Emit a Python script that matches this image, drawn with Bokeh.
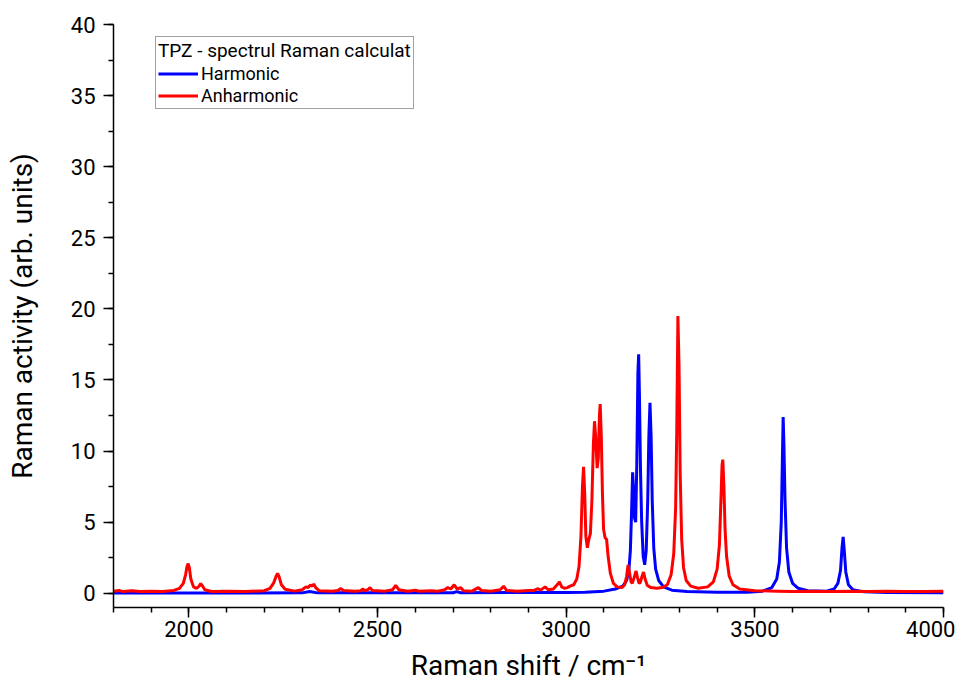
from bokeh.plotting import figure
from bokeh.models import Range1d, Legend, LegendItem, SingleIntervalTicker
from bokeh.embed import file_html
from bokeh.resources import INLINE

# ---- data ----
harm_x = [1800, 2000, 2300, 2320, 2340, 2700, 2710, 2720, 3000, 3050, 3100, 3130, 3150,
          3160, 3166, 3170, 3173, 3176, 3178, 3181, 3184, 3187, 3190, 3192, 3194, 3197,
          3200, 3204, 3208, 3212, 3216, 3219, 3222, 3225, 3228, 3232, 3237, 3245, 3258,
          3280, 3320, 3400, 3480, 3520, 3545, 3558, 3565, 3570, 3573, 3575, 3577, 3580,
          3584, 3590, 3600, 3615, 3640, 3690, 3710, 3720, 3727, 3731, 3734, 3737, 3741,
          3748, 3760, 3790, 3850, 4000]
harm_y = [0.02, 0.02, 0.03, 0.12, 0.03, 0.04, 0.12, 0.04, 0.06, 0.08, 0.15, 0.3, 0.5,
          0.9, 1.6, 3.0, 5.5, 8.5, 7.5, 5.3, 5.0, 9.0, 15.5, 16.8, 14.0, 8.5,
          5.0, 2.6, 2.0, 3.0, 6.5, 11.0, 13.4, 11.0, 6.5, 3.2, 1.7, 0.9, 0.45,
          0.22, 0.12, 0.07, 0.08, 0.15, 0.4, 1.0, 2.2, 5.0, 9.5, 12.4, 10.5, 6.5,
          3.2, 1.5, 0.7, 0.35, 0.18, 0.15, 0.3, 0.7, 1.6, 3.2, 3.96, 3.0, 1.5,
          0.6, 0.25, 0.1, 0.05, 0.03]

anh_x = [1800, 1815, 1825, 1850, 1870, 1900, 1930, 1960, 1975, 1985, 1991, 1995, 1998,
         2001, 2005, 2012, 2020, 2027, 2031, 2035, 2042, 2060, 2100, 2150, 2200, 2215,
         2225, 2231, 2235, 2239, 2245, 2255, 2280, 2300, 2310, 2316, 2322, 2327, 2331,
         2336, 2345, 2380, 2395, 2402, 2410, 2440, 2455, 2461, 2466, 2474, 2480, 2486,
         2520, 2540, 2548, 2556, 2580, 2600, 2610, 2640, 2660, 2678, 2686, 2694, 2703,
         2711, 2720, 2728, 2750, 2767, 2775, 2800, 2825, 2834, 2842, 2870, 2900, 2915,
         2924, 2932, 2944, 2952, 2966, 2976, 2982, 2988, 2995, 3003, 3010, 3020, 3028,
         3034, 3039, 3043, 3046, 3049, 3052, 3056, 3060, 3064, 3068, 3072, 3075, 3078,
         3082, 3085, 3088, 3090, 3093, 3096, 3099, 3103, 3107, 3111, 3117, 3125, 3135,
         3148, 3155, 3160, 3164, 3168, 3172, 3175, 3180, 3185, 3189, 3193, 3196, 3201,
         3205, 3209, 3215, 3225, 3240, 3255, 3268, 3278, 3285, 3290, 3293, 3296, 3299,
         3302, 3306, 3311, 3318, 3330, 3350, 3375, 3390, 3400, 3406, 3410, 3413, 3415,
         3418, 3421, 3425, 3432, 3442, 3460, 3500, 3560, 3600, 3650, 3700, 3760, 3800,
         3850, 3900, 3950, 4000]
anh_y = [0.15, 0.2, 0.12, 0.18, 0.12, 0.15, 0.12, 0.2, 0.35, 0.7, 1.3, 1.9, 2.08,
         1.8, 1.0, 0.45, 0.35, 0.5, 0.68, 0.55, 0.25, 0.13, 0.15, 0.12, 0.18, 0.35,
         0.75, 1.2, 1.4, 1.15, 0.6, 0.28, 0.15, 0.25, 0.45, 0.4, 0.58, 0.5, 0.65,
         0.4, 0.18, 0.15, 0.2, 0.33, 0.2, 0.15, 0.18, 0.3, 0.18, 0.25, 0.4, 0.2,
         0.15, 0.25, 0.55, 0.25, 0.15, 0.22, 0.14, 0.18, 0.14, 0.25, 0.4, 0.3, 0.6,
         0.3, 0.4, 0.18, 0.15, 0.4, 0.2, 0.15, 0.25, 0.5, 0.2, 0.15, 0.2, 0.2,
         0.32, 0.22, 0.45, 0.25, 0.3, 0.6, 0.8, 0.45, 0.35, 0.4, 0.5, 0.6, 1.0,
         1.9, 4.0, 7.5, 8.9, 7.0, 4.0, 3.2, 3.8, 4.2, 6.5, 10.5, 12.1, 11.0,
         8.8, 9.5, 12.5, 13.3, 11.0, 7.0, 4.5, 3.9, 3.8, 2.6, 1.4, 0.7, 0.45,
         0.4, 0.6, 1.2, 2.0, 1.4, 0.8, 0.7, 1.1, 1.57, 1.1, 0.7, 0.75, 1.2,
         1.5, 1.0, 0.55, 0.4, 0.35, 0.4, 0.6, 1.3, 2.8, 6.0, 11.5, 19.5, 16.0,
         8.5, 3.8, 1.8, 0.9, 0.5, 0.35, 0.45, 0.8, 1.7, 3.4, 6.5, 9.0, 9.4,
         7.5, 4.5, 2.6, 1.2, 0.6, 0.3, 0.18, 0.15, 0.12, 0.15, 0.12, 0.15, 0.12,
         0.15, 0.12, 0.13, 0.14]

legend_title = "TPZ - spectrul Raman calculat"
series_names = ["Harmonic", "Anharmonic"]
series_colors = ["#0000ff", "#ff0000"]
x_label = "Raman shift / cm\u207b\u00b9"
y_label = "Raman activity (arb. units)"

FONT = "Roboto"
X_MIN, X_MAX = 1800, 4000

p = figure(width=955, height=684, output_backend="svg", toolbar_location=None,
           x_range=Range1d(X_MIN, X_MAX), y_range=Range1d(-1.0, 40),
           min_border_left=113, min_border_right=12, min_border_top=24,
           min_border_bottom=77)
p.outline_line_color = None
p.xgrid.grid_line_color = None
p.ygrid.grid_line_color = None
p.background_fill_color = "white"
p.border_fill_color = "white"

r1 = p.line(harm_x, harm_y, line_color=series_colors[0], line_width=3)
r2 = p.line(anh_x, anh_y, line_color=series_colors[1], line_width=3)

p.xaxis.ticker = SingleIntervalTicker(interval=500, num_minor_ticks=5)
p.yaxis.ticker = SingleIntervalTicker(interval=5, num_minor_ticks=2)

for ax in (p.xaxis, p.yaxis):
    ax.axis_line_width = 1.5
    ax.axis_line_color = "black"
    ax.major_tick_line_width = 1.5
    ax.minor_tick_line_width = 1.5
    ax.major_tick_line_color = "black"
    ax.minor_tick_line_color = "black"
    ax.major_tick_in = 0
    ax.major_tick_out = 10
    ax.minor_tick_in = 0
    ax.minor_tick_out = 5
    ax.major_label_text_font = FONT
    ax.major_label_text_font_size = "22px"
    ax.major_label_text_color = "black"
    ax.axis_label_text_font = FONT
    ax.axis_label_text_font_style = "normal"
    ax.axis_label_text_color = "black"

p.xaxis.axis_label = x_label
p.yaxis.axis_label = y_label
p.xaxis.axis_label_text_font_size = "28px"
p.yaxis.axis_label_text_font_size = "28px"
p.xaxis.major_label_standoff = 3
p.yaxis.major_label_standoff = 8
p.xaxis.axis_label_standoff = 9
p.yaxis.axis_label_standoff = 29

legend = Legend(items=[LegendItem(label=series_names[0], renderers=[r1]),
                       LegendItem(label=series_names[1], renderers=[r2])],
                location=(42, 498), title=legend_title)
legend.title_text_font = FONT
legend.title_text_font_size = "19px"
legend.title_text_font_style = "normal"
legend.title_text_color = "black"
legend.title_standoff = 1
legend.label_text_font = FONT
legend.label_text_font_size = "18px"
legend.label_text_color = "black"
legend.label_height = 21
legend.glyph_height = 21
legend.glyph_width = 40
legend.label_standoff = 3
legend.spacing = 1
legend.padding = 2
legend.margin = 0
legend.border_line_color = "#444444"
legend.border_line_width = 1
legend.background_fill_alpha = 1.0
p.add_layout(legend)

open("out.html", "w").write(file_html(p, INLINE))
